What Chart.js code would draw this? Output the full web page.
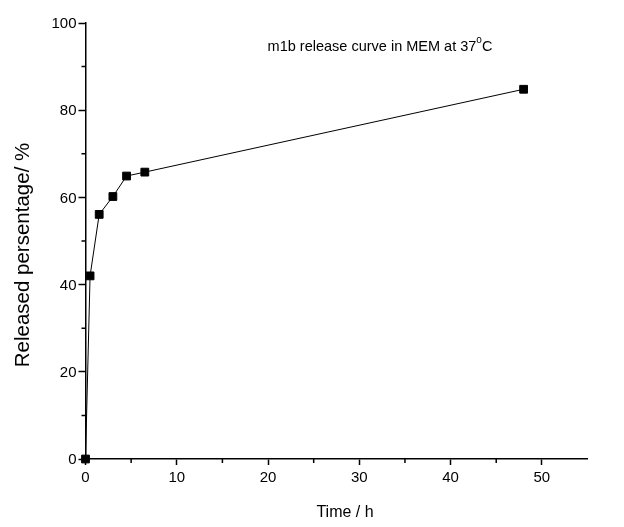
<!DOCTYPE html>
<html>
<head>
<meta charset="utf-8">
<script src="https://cdn.jsdelivr.net/npm/chart.js@4.4.0/dist/chart.umd.min.js"></script>
<style>
html,body{margin:0;padding:0;background:#fff;}
#wrap{width:624px;height:527px;position:relative;}
</style>
</head>
<body>
<div id="wrap"><canvas id="c" width="624" height="527"></canvas></div>
<script>
const timeHours = [0, 0.5, 1.5, 3, 4.5, 6.5, 48];
const releasedPercent = [0, 42.0, 56.1, 60.2, 64.9, 65.8, 84.8];
const xMajorTicks = [0, 10, 20, 30, 40, 50];
const yMajorTicks = [0, 20, 40, 60, 80, 100];
const xMinorTicks = [5, 15, 25, 35, 45];
const yMinorTicks = [10, 30, 50, 70, 90];
const chartTitle = ["m1b release curve in MEM at 37", "o", "C"];
const xTitle = "Time / h";
const yTitle = "Released persentage/ %";

const FONT = "'Liberation Sans', Arial, sans-serif";

function drawText(ctx, text, x, y, size, align, baseline, rot) {
  ctx.save();
  ctx.translate(x, y);
  if (rot) ctx.rotate(rot);
  ctx.font = size + 'px ' + FONT;
  ctx.textAlign = align;
  ctx.textBaseline = baseline;
  ctx.fillText(text, 0, 0);
  ctx.restore();
}

const extras = {
  id: 'extras',
  afterDraw(chart) {
    const ctx = chart.ctx;
    const xs = chart.scales.x, ys = chart.scales.y;
    ctx.save();
    ctx.strokeStyle = '#000';
    ctx.lineWidth = 1.5;
    ctx.beginPath();
    xMinorTicks.forEach(v => {
      const px = xs.getPixelForValue(v);
      ctx.moveTo(px, ys.bottom);
      ctx.lineTo(px, ys.bottom + 4);
    });
    yMinorTicks.forEach(v => {
      const py = ys.getPixelForValue(v);
      ctx.moveTo(xs.left, py);
      ctx.lineTo(xs.left - 4, py);
    });
    ctx.stroke();
    ctx.fillStyle = '#000';
    xMajorTicks.forEach(v => {
      drawText(ctx, String(v), xs.getPixelForValue(v), ys.bottom + 19, 15, 'center', 'middle', 0);
    });
    yMajorTicks.forEach(v => {
      drawText(ctx, String(v), xs.left - 9, ys.getPixelForValue(v) + 1, 15, 'right', 'middle', 0);
    });
    drawText(ctx, xTitle, 345, 517, 16, 'center', 'alphabetic', 0);
    drawText(ctx, yTitle, 29, 255, 20.5, 'center', 'alphabetic', -Math.PI / 2);
    ctx.font = '14.5px ' + FONT;
    const w1 = ctx.measureText(chartTitle[0]).width;
    const w3 = ctx.measureText(chartTitle[2]).width;
    ctx.font = '10px ' + FONT;
    const w2 = ctx.measureText(chartTitle[1]).width;
    let x = 380 - (w1 + w2 + w3) / 2;
    const base = 51;
    drawText(ctx, chartTitle[0], x, base, 14.5, 'left', 'alphabetic', 0);
    x += w1;
    drawText(ctx, chartTitle[1], x, base - 8, 10, 'left', 'alphabetic', 0);
    x += w2;
    drawText(ctx, chartTitle[2], x, base, 14.5, 'left', 'alphabetic', 0);
    ctx.restore();
  }
};

new Chart(document.getElementById('c'), {
  type: 'line',
  data: {
    datasets: [{
      data: timeHours.map((t, i) => ({x: t, y: releasedPercent[i]})),
      borderColor: '#000',
      borderWidth: 1,
      backgroundColor: '#000',
      pointStyle: 'rect',
      pointRadius: 5.5,
      pointBorderWidth: 1,
      pointBorderColor: '#000',
      pointBackgroundColor: '#000',
      tension: 0,
      clip: false
    }]
  },
  options: {
    responsive: false,
    animation: false,
    devicePixelRatio: 1,
    layout: { padding: { left: 0, top: 23, right: 36.5, bottom: 0 } },
    plugins: { legend: { display: false }, tooltip: { enabled: false } },
    scales: {
      x: {
        type: 'linear',
        min: 0, max: 55,
        afterFit(s) { s.height = 68; },
        afterBuildTicks(s) { s.ticks = xMajorTicks.map(v => ({value: v})); },
        ticks: { display: false, includeBounds: false },
        grid: { display: true, drawOnChartArea: false, drawTicks: true, tickLength: 6, tickColor: '#000', tickWidth: 1.5 },
        border: { display: true, color: '#000', width: 1.5 },
        title: { display: false, text: xTitle }
      },
      y: {
        type: 'linear',
        min: 0, max: 100,
        afterFit(s) { s.width = 85.5; },
        afterBuildTicks(s) { s.ticks = yMajorTicks.map(v => ({value: v})); },
        ticks: { display: false, includeBounds: false },
        grid: { display: true, drawOnChartArea: false, drawTicks: true, tickLength: 7, tickColor: '#000', tickWidth: 1.5 },
        border: { display: true, color: '#000', width: 1.5 },
        title: { display: false, text: yTitle }
      }
    }
  },
  plugins: [extras]
});
</script>
</body>
</html>
